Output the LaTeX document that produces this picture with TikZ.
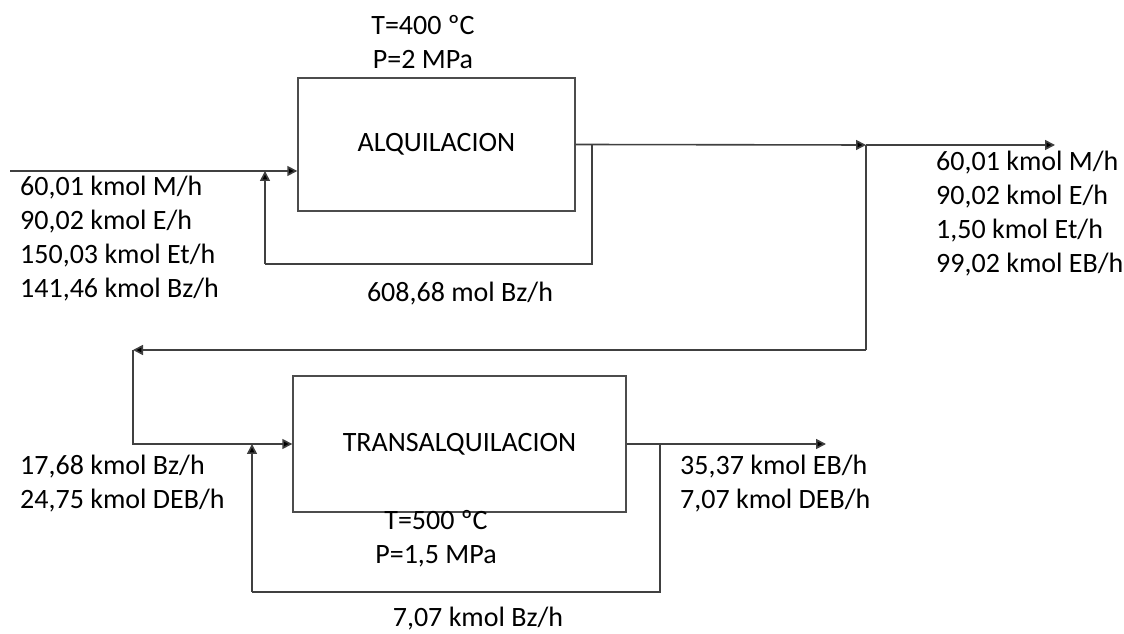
\documentclass[tikz,border=0pt]{standalone}
\usepackage{fontspec}
\setmainfont{Carlito}
\usetikzlibrary{arrows.meta}
\begin{document}
\begin{tikzpicture}[x=1pt,y=1pt,
  line/.style={draw=black!75,line width=1.6pt},
  arr/.style={line,-{Triangle[length=10pt,width=10pt,fill=black]}},
  box/.style={draw=black!70,line width=1.4pt,minimum width=#1,inner sep=0pt},
  lbl/.style={font=\fontsize{28}{34}\selectfont,text=black,inner sep=0pt,align=left},
  clbl/.style={font=\fontsize{28}{34}\selectfont,text=black,inner sep=0pt,align=center}]
\useasboundingbox (0,0) rectangle (1124,634);
% boxes
\node[box=277pt,minimum height=133pt,lbl] (b1) at (436.5,489.5) {ALQUILACION};
\node[box=333pt,minimum height=136pt,lbl] (b2) at (459.5,190) {TRANSALQUILACION};
% conditions
\node[clbl] (c1) at (423,592) {T=400 ºC\\P=2 MPa};
\node[clbl] (c2) at (436,95) {T=500 ºC\\P=1,5 MPa};
% coordinates
\coordinate (f0) at (10,463);
\coordinate (r1) at (592,489);
\coordinate (r2) at (592,370);
\coordinate (r3) at (265,370);
\coordinate (s) at (866,489);
\coordinate (o1) at (1055,489);
\coordinate (d1) at (866,284);
\coordinate (d2) at (133,284);
\coordinate (o2) at (826,190);
\coordinate (q1) at (660,190);
\coordinate (q2) at (660,42);
\coordinate (q3) at (252,42);
% connectors
\draw[arr] (f0) -- (f0 -| b1.west);
\draw[line] (r1) -- (r2) -- (r3);
\draw[arr] (r3) -- (r3 |- f0);
\draw[arr] (b1.east) -- (s);
\draw[arr] (s) -- (o1);
\draw[line] (s) -- (d1);
\draw[arr] (d1) -- (d2);
\draw[arr] (d2) |- (b2.west);
\draw[arr] (b2.east) -- (o2);
\draw[line] (q1) -- (q2) -- (q3);
\draw[arr] (q3) -- (q3 |- b2.west);
% labels
\node[lbl,anchor=west] (l1) at (20,395) {60,01 kmol M/h\\90,02 kmol E/h\\150,03 kmol Et/h\\141,46 kmol Bz/h};
\node[lbl,anchor=west] (l2) at (936,420.5) {60,01 kmol M/h\\90,02 kmol E/h\\1,50 kmol Et/h\\99,02 kmol EB/h};
\node[clbl] (l3) at (460,340) {608,68 mol Bz/h};
\node[lbl,anchor=west] (l4) at (20,150.5) {17,68 kmol Bz/h\\24,75 kmol DEB/h};
\node[lbl,anchor=west] (l5) at (680,150.5) {35,37 kmol EB/h\\7,07 kmol DEB/h};
\node[clbl] (l6) at (478,15) {7,07 kmol Bz/h};
\end{tikzpicture}
\end{document}
